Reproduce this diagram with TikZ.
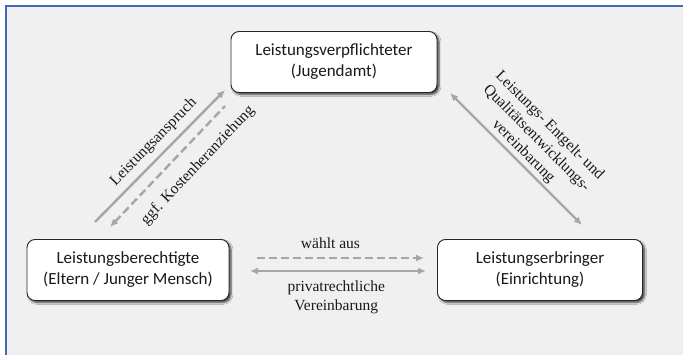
\documentclass[tikz,border=0pt]{standalone}
\usepackage{fontspec}
\setmainfont{Liberation Serif}
\newfontfamily\boxfont{Carlito}
\usetikzlibrary{shadows.blur,arrows.meta,positioning}
\definecolor{bgfill}{HTML}{F0F0F0}
\definecolor{frameblue}{HTML}{4169B4}
\definecolor{arrowgray}{HTML}{A6A6A6}

\begin{document}
\begin{tikzpicture}[x=1pt,y=-1pt,
  >={Latex[length=8pt,width=7pt]},
  party/.style={draw=black!85, line width=0.9pt, rounded corners=8pt, fill=white,
    align=center, minimum height=61pt, text=black!90,
    font=\boxfont\fontsize{17}{21}\selectfont,
    blur shadow={shadow xshift=2pt, shadow yshift=-2pt, shadow blur steps=5, shadow opacity=75}},
  rel/.style={draw=arrowgray, line width=2.4pt},
  dashpat/.style={dash pattern=on 8pt off 4pt},
  lbl/.style={font=\fontsize{15.5}{18.5}\selectfont, text=black!90, align=center, inner sep=2pt}]
\useasboundingbox (0,0) rectangle (683,355);
\fill[white] (0,0) rectangle (683,355);
\fill[bgfill] (6,6) rectangle (683,355);
\draw[frameblue, line width=1.3pt] (6,355) -- (6,6) -- (683,6);

% Beteiligte
\node[party, minimum width=206pt] (verpfl) at (334,62) {Leistungsverpflichteter\\(Jugendamt)};
\node[party, minimum width=202pt] (berecht) at (128,270) {Leistungsberechtigte\\(Eltern / Junger Mensch)};
\node[party, minimum width=205pt] (erbring) at (540,270) {Leistungserbringer\\(Einrichtung)};

% Enden der Pfeile
\coordinate (anspruchA) at (95,222);
\coordinate (anspruchB) at (225,90);
\coordinate (kostenA) at (225,106);
\coordinate (kostenB) at (110,227);
\coordinate (vereinbA) at (450,93);
\coordinate (vereinbB) at (582,225);
\coordinate (auswahlA) at (257,258);
\coordinate (auswahlB) at (424,258);
\coordinate (privatA) at (250,271);
\coordinate (privatB) at (426,271);

% Beziehungen
\draw[rel, ->] (anspruchA) -- node[lbl, sloped, above=4pt, pos=.53] {Leistungsanspruch} (anspruchB);
\draw[rel, dashpat, <-] (kostenB) -- node[lbl, sloped, below=11pt, pos=.63] {ggf. Kostenheranziehung} (kostenA);
\draw[rel, <->] (vereinbA) -- node[lbl, sloped, above, pos=.5] {Leistungs- Entgelt- und\\Qualitätsentwicklungs-\\vereinbarung} (vereinbB);
\draw[rel, dashpat, ->] (auswahlA) -- node[lbl, above=6pt, pos=.44] {wählt aus} (auswahlB);
\draw[rel, <->] (privatA) -- node[lbl, below=7pt, pos=.49] {privatrechtliche\\Vereinbarung} (privatB);
\end{tikzpicture}
\end{document}
